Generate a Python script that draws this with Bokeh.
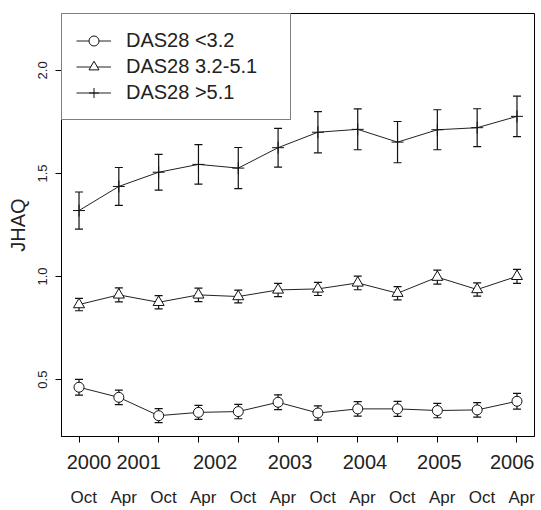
from bokeh.plotting import figure
from bokeh.models import (ColumnDataSource, Range1d, LinearAxis, FixedTicker,
                          PrintfTickFormatter, Whisker, TeeHead, Legend, LegendItem)
from bokeh.embed import file_html
from bokeh.resources import INLINE

# ---------------- data ----------------
month_labels = ["Oct", "Apr", "Oct", "Apr", "Oct", "Apr", "Oct", "Apr", "Oct", "Apr", "Oct", "Apr"]
year_labels = ["2000", "2001", "2002", "2003", "2004", "2005", "2006"]
year_label_pos = [0.25, 1.5, 3.42, 5.3, 7.18, 9.05, 10.88]

series_names = ["DAS28 <3.2", "DAS28 3.2-5.1", "DAS28 >5.1"]
low_mean = [0.463, 0.414, 0.325, 0.341, 0.345, 0.390, 0.338, 0.358, 0.358, 0.350, 0.353, 0.395]
low_se = [0.038, 0.035, 0.034, 0.034, 0.035, 0.036, 0.035, 0.035, 0.036, 0.035, 0.035, 0.038]
mid_mean = [0.864, 0.911, 0.875, 0.911, 0.903, 0.935, 0.940, 0.969, 0.919, 0.997, 0.937, 1.001]
mid_se = [0.030, 0.034, 0.032, 0.033, 0.031, 0.032, 0.032, 0.033, 0.032, 0.034, 0.032, 0.034]
high_mean = [1.320, 1.437, 1.506, 1.544, 1.526, 1.625, 1.700, 1.714, 1.652, 1.712, 1.722, 1.777]
high_se = [0.090, 0.092, 0.087, 0.096, 0.100, 0.094, 0.100, 0.099, 0.100, 0.097, 0.092, 0.098]

y_ticks = [0.5, 1.0, 1.5, 2.0]
y_lim = (0.3, 2.2)

FONT = "Liberation Sans"

n = len(month_labels)
xs = list(range(n))
x_pad = 0.04 * (n - 1)
y_pad = 0.04 * (y_lim[1] - y_lim[0])

p = figure(width=541, height=510, output_backend="svg", toolbar_location=None,
           x_range=Range1d(-x_pad, n - 1 + x_pad),
           y_range=Range1d(y_lim[0] - y_pad, y_lim[1] + y_pad),
           x_axis_location=None, y_axis_location="left",
           min_border_left=61, min_border_top=13, min_border_right=7, min_border_bottom=74)
p.grid.visible = False
p.outline_line_color = "black"
p.outline_line_width = 1
p.background_fill_color = "white"
p.border_fill_color = "white"

# y axis
ya = p.yaxis[0]
ya.ticker = FixedTicker(ticks=y_ticks)
ya.formatter = PrintfTickFormatter(format="%.1f")
ya.minor_tick_line_color = None
ya.major_tick_out = 6
ya.major_tick_in = 0
ya.major_label_orientation = "vertical"
ya.major_label_text_font = FONT
ya.major_label_text_font_size = "13px"
ya.major_label_text_color = "#222222"
ya.major_label_standoff = 8
ya.axis_label = "JHAQ"
ya.axis_label_text_font = FONT
ya.axis_label_text_font_size = "20px"
ya.axis_label_text_font_style = "normal"
ya.axis_label_text_color = "#222222"
ya.axis_label_standoff = 7
ya.axis_line_color = "black"

# x axis: tick marks at every visit (minor ticks), year labels (major, unmarked)
ax_years = LinearAxis(ticker=FixedTicker(ticks=year_label_pos, minor_ticks=xs),
                      major_label_overrides={float(v): s for v, s in zip(year_label_pos, year_labels)})
ax_years.major_tick_line_color = None
ax_years.major_tick_out = 6
ax_years.major_tick_in = 0
ax_years.minor_tick_line_color = "black"
ax_years.minor_tick_line_width = 1
ax_years.minor_tick_out = 6
ax_years.minor_tick_in = 0
ax_years.axis_line_color = "black"
ax_years.major_label_text_font = FONT
ax_years.major_label_text_font_size = "20px"
ax_years.major_label_text_color = "#222222"
ax_years.major_label_standoff = 12
p.add_layout(ax_years, "below")

# months row
month_pos = [x + 0.12 for x in xs]
ax_months = LinearAxis(ticker=FixedTicker(ticks=month_pos),
                       major_label_overrides={float(v): s for v, s in zip(month_pos, month_labels)})
ax_months.major_tick_line_color = None
ax_months.minor_tick_line_color = None
ax_months.axis_line_color = None
ax_months.major_label_text_font = FONT
ax_months.major_label_text_font_size = "17px"
ax_months.major_label_text_color = "#222222"
ax_months.major_label_standoff = 10
p.add_layout(ax_months, "below")

markers = ["circle", "triangle", "cross"]
sizes = [10, 11, 12]
items = []
for name, mean, se, mk, sz in zip(series_names, [low_mean, mid_mean, high_mean],
                                  [low_se, mid_se, high_se], markers, sizes):
    src = ColumnDataSource(dict(x=xs, y=mean,
                                lo=[m - s for m, s in zip(mean, se)],
                                hi=[m + s for m, s in zip(mean, se)]))
    ln = p.line("x", "y", source=src, line_color="#222222", line_width=1)
    sc = p.scatter("x", "y", source=src, marker=mk, size=sz, line_color="#111111",
                   line_width=1, fill_color="white")
    w = Whisker(base="x", lower="lo", upper="hi", source=src, dimension="height",
                line_color="#111111", line_width=1.2,
                upper_head=TeeHead(size=8, line_color="#111111", line_width=1.2),
                lower_head=TeeHead(size=8, line_color="#111111", line_width=1.2))
    p.add_layout(w)
    items.append(LegendItem(label=name, renderers=[ln, sc]))

legend = Legend(items=items, location="top_left", margin=0, padding=14, spacing=1,
                label_height=25, glyph_height=25, glyph_width=35, label_standoff=15,
                label_width=150, label_text_font=FONT, label_text_font_size="20px",
                label_text_color="#222222",
                border_line_color="black", border_line_width=1,
                background_fill_color="white", background_fill_alpha=1.0)
p.add_layout(legend)

open("out.html", "w").write(file_html(p, INLINE))
